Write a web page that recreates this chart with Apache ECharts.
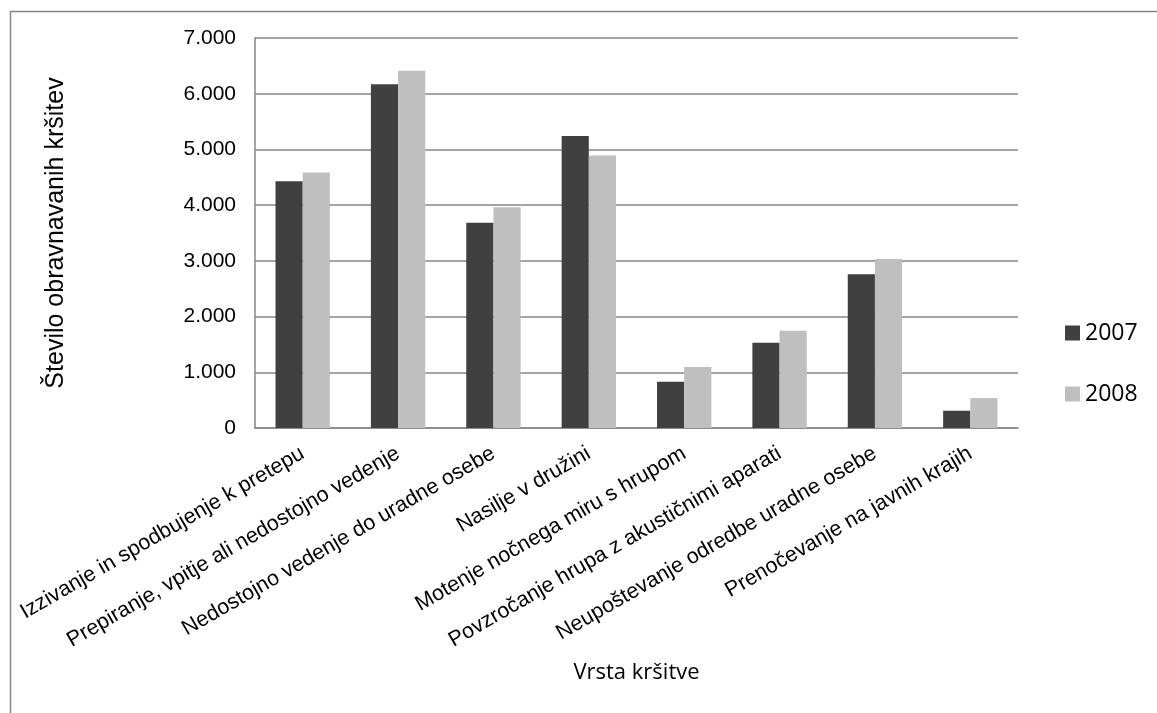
<!DOCTYPE html>
<html>
<head>
<meta charset="utf-8">
<script src="https://cdn.jsdelivr.net/npm/echarts@6/dist/echarts.min.js"></script>
<style>
html,body{margin:0;padding:0;background:#fff;}
#main{width:1157px;height:713px;}
</style>
</head>
<body>
<div id="main"></div>
<script>
const categories = [
  'Izzivanje in spodbujenje k pretepu',
  'Prepiranje, vpitje ali nedostojno vedenje',
  'Nedostojno vedenje do uradne osebe',
  'Nasilje v družini',
  'Motenje nočnega miru s hrupom',
  'Povzročanje hrupa z akustičnimi aparati',
  'Neupoštevanje odredbe uradne osebe',
  'Prenočevanje na javnih krajih'
];
const values2007 = [4430, 6170, 3685, 5240, 830, 1530, 2760, 310];
const values2008 = [4585, 6410, 3960, 4890, 1095, 1745, 3035, 537];
const seriesNames = ['2007', '2008'];
const yTicks = [0, 1000, 2000, 3000, 4000, 5000, 6000, 7000];

const chart = echarts.init(document.getElementById('main'));
const fmt = v => v === 0 ? '0' : String(v).replace(/\B(?=(\d{3})+(?!\d))/g, '.');
const gridColor = '#868686';

chart.setOption({
  animation: false,
  backgroundColor: '#fff',
  graphic: [{
    type: 'rect', left: 8, top: 9,
    shape: { width: 1300, height: 1000 },
    style: { fill: 'none', stroke: gridColor, lineWidth: 1.5 }
  }],
  grid: { left: 255, right: 139, top: 38, bottom: 285, containLabel: false },
  legend: {
    orient: 'vertical', left: 1060, top: 316,
    itemWidth: 15, itemHeight: 15, itemGap: 37,
    icon: 'rect',
    textStyle: { fontFamily: 'Open Sans', fontSize: 23, color: '#000', lineHeight: 24, padding: [0, 0, 0, 0] },
    data: seriesNames
  },
  xAxis: {
    type: 'category',
    data: categories,
    name: 'Vrsta kršitve',
    nameLocation: 'middle',
    nameGap: 234,
    nameTextStyle: { fontFamily: 'Open Sans', fontSize: 22, color: '#000' },
    axisLine: { lineStyle: { color: gridColor, width: 1.5 } },
    axisTick: { show: false },
    axisLabel: { interval: 0, rotate: 30, fontFamily: 'Liberation Sans', fontSize: 21.5, color: '#000', margin: 24 }
  },
  yAxis: {
    type: 'value',
    min: 0, max: 7000, interval: 1000,
    name: 'Število obravnavanih kršitev',
    nameLocation: 'middle',
    nameGap: 186,
    nameRotate: 90,
    nameTextStyle: { fontFamily: 'Liberation Sans', fontSize: 25, color: '#000' },
    axisLine: { show: true, lineStyle: { color: gridColor, width: 1.5 } },
    axisTick: { show: false },
    splitLine: { lineStyle: { color: gridColor, width: 1.5 } },
    axisLabel: { formatter: v => yTicks.includes(v) ? fmt(v) : '', fontFamily: 'Liberation Sans', fontSize: 21, color: '#000', margin: 19 }
  },
  series: [
    { name: seriesNames[0], type: 'bar', data: values2007, barGap: '0%', barCategoryGap: '43%', itemStyle: { color: '#404040' } },
    { name: seriesNames[1], type: 'bar', data: values2008, barGap: '0%', barCategoryGap: '43%', itemStyle: { color: '#bfbfbf' } }
  ]
});
</script>
</body>
</html>
